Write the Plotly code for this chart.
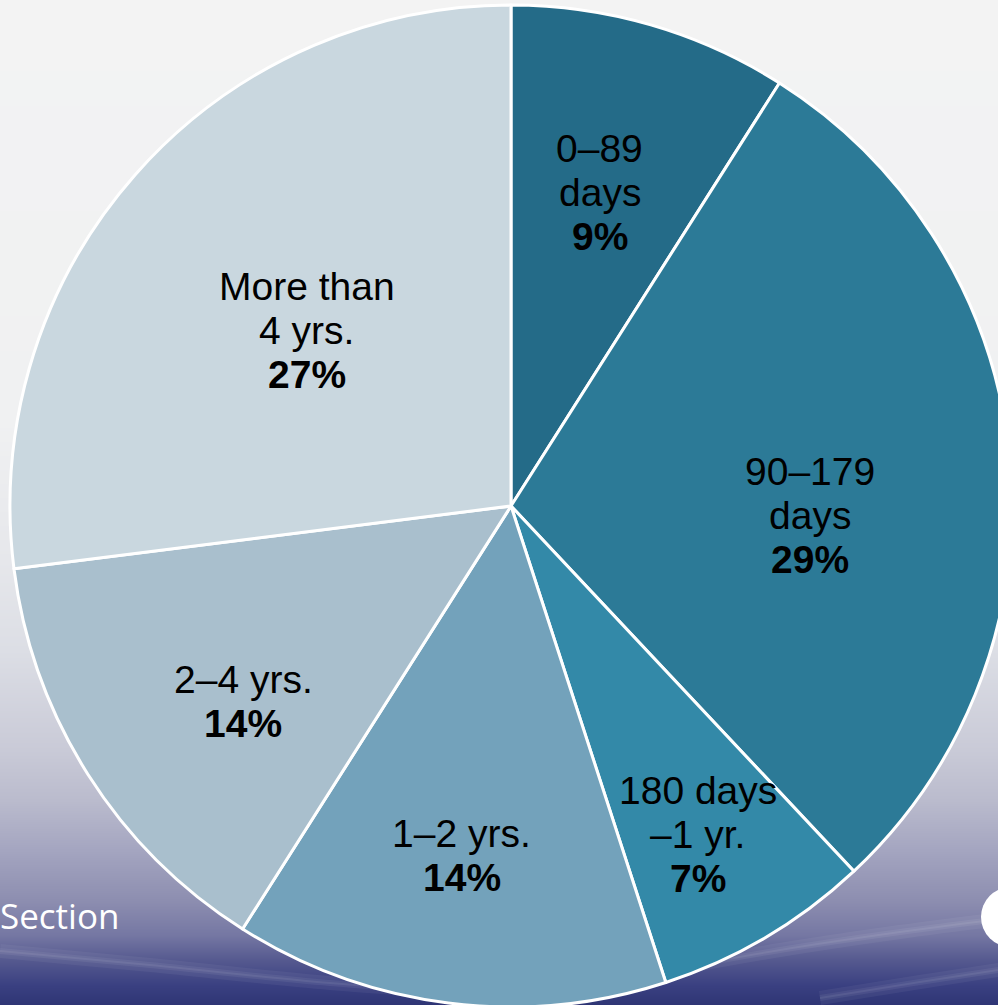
import math
import plotly.graph_objects as go

# Age distribution of open items, share of total (%)
CATEGORIES = ["0–89<br>days", "90–179<br>days", "180 days<br>–1 yr.",
              "1–2 yrs.", "2–4 yrs.", "More than<br>4 yrs."]
SHARES = [9, 29, 7, 14, 14, 27]
COLORS = ["#246b88", "#2c7a97", "#3389a8", "#73a2bb", "#a9bfcd", "#c9d7df"]

# Canvas and pie geometry (pixels)
W, H = 1024, 1012
CX, CY, R = 511, 506, 501

# Label placement: angular nudge from slice middle (deg) and radius fraction
LABEL_NUDGE = [-0.4, 7.3, 1.0, 0.8, -3.7, -0.8]
LABEL_RFRAC = [0.651, 0.597, 0.754, 0.705, 0.661, 0.537]
LINE_GAP = 44
FONT = "Liberation Sans"

# Vertical background gradient stops (pixel y, colour)
BG_STOPS = [
    (0, "#f3f3f3"), (420, "#f0f1f2"), (560, "#e6e7eb"), (650, "#dcdee5"),
    (750, "#c9cad7"), (800, "#babbcd"), (850, "#a4a5c0"), (900, "#8d8eb0"),
    (935, "#7577a3"), (960, "#55598f"), (985, "#3a4081"), (1012, "#2a3170"),
]

# Faint light streaks across the lower background (pixel x, y)
STREAKS = [
    ([0, 150, 330, 520], [951, 965, 983, 996]),
    ([640, 780, 900, 1024], [975, 950, 932, 916]),
    ([820, 920, 1024], [998, 982, 966]),
]

fig = go.Figure()

# background gradient on a hidden cartesian layer
ys = [s[0] for s in BG_STOPS]
fig.add_trace(go.Heatmap(
    x=[0, W], y=ys, z=[[y, y] for y in ys],
    colorscale=[[y / H, c] for y, c in BG_STOPS],
    zmin=0, zmax=H, zsmooth="best", showscale=False, hoverinfo="skip",
))
# soft streaks: a wide faint stroke under a thin one
for sx, sy in STREAKS:
    for width, alpha in ((14, 0.05), (6, 0.06), (2, 0.07)):
        fig.add_trace(go.Scatter(
            x=sx, y=sy, mode="lines",
            line=dict(color=f"rgba(255,255,255,{alpha})", width=width,
                      shape="spline"),
            hoverinfo="skip", showlegend=False,
        ))

fig.add_trace(go.Pie(
    labels=[c.replace("<br>", " ") for c in CATEGORIES],
    values=SHARES,
    sort=False, direction="clockwise", rotation=0,
    marker=dict(colors=COLORS, line=dict(color="white", width=3)),
    textinfo="none", hoverinfo="label+percent", showlegend=False,
    domain=dict(x=[(CX - R) / W, (CX + R) / W],
                y=[1 - (CY + R) / H, 1 - (CY - R) / H]),
))

# slice labels, positioned from the cumulative share of each slice
total = sum(SHARES)
cum = 0
annotations = []
for i, (cat, val) in enumerate(zip(CATEGORIES, SHARES)):
    mid = (cum + val / 2) / total * 360 + LABEL_NUDGE[i]
    cum += val
    r = LABEL_RFRAC[i] * R
    px = CX + r * math.sin(math.radians(mid))
    py = CY - r * math.cos(math.radians(mid))
    lines = cat.split("<br>") + [f"<b>{val}%</b>"]
    n = len(lines)
    for j, line in enumerate(lines):
        annotations.append(dict(
            x=px / W, y=1 - py / H, xref="paper", yref="paper",
            text=line, showarrow=False, xanchor="center", yanchor="middle",
            yshift=-(j - (n - 1) / 2) * LINE_GAP,
            font=dict(family=FONT, size=39, color="#000000"),
        ))

annotations.append(dict(
    x=0, y=1 - 915 / H, xref="paper", yref="paper", text="Section",
    showarrow=False, xanchor="left", yanchor="middle", xshift=-2,
    font=dict(family="Open Sans", size=35, color="white"),
))

fig.update_layout(
    width=W, height=H,
    margin=dict(l=0, r=0, t=0, b=0),
    paper_bgcolor="#f2f2f2", plot_bgcolor="rgba(0,0,0,0)",
    xaxis=dict(range=[0, W], visible=False, domain=[0, 1], fixedrange=True),
    yaxis=dict(range=[H, 0], visible=False, domain=[0, 1], fixedrange=True),
    annotations=annotations,
    shapes=[dict(type="circle", xref="paper", yref="paper",
                 x0=(1011 - 30) / W, x1=(1011 + 30) / W,
                 y0=1 - (917 + 30) / H, y1=1 - (917 - 30) / H,
                 fillcolor="white", line=dict(width=0), layer="above")],
)

fig.write_html(
    "out.html",
    config={"displayModeBar": False},
    post_script=("document.body.style.margin='0';"
                 "document.body.style.overflow='hidden';"
                 "document.documentElement.style.overflow='hidden';"),
)
